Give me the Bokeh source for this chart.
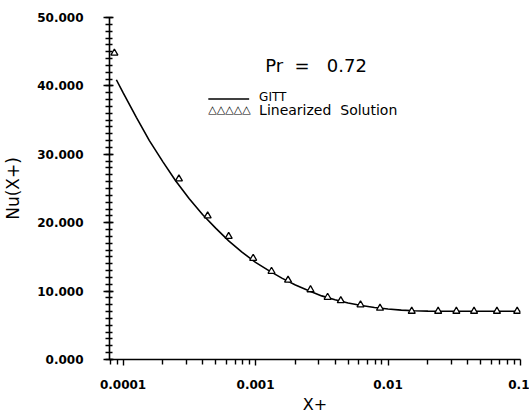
from bokeh.plotting import figure
from bokeh.models import (Range1d, FixedTicker, SingleIntervalTicker, NumeralTickFormatter,
                          Label, BoxAnnotation)
from bokeh.embed import file_html
from bokeh.resources import INLINE

# GITT solution (solid line)
gitt_x = [8.9e-5, 1.0e-4, 1.26e-4, 1.58e-4, 2.0e-4, 2.5e-4, 3.16e-4, 3.98e-4, 5.0e-4,
          6.3e-4, 7.9e-4, 1.0e-3, 1.26e-3, 1.58e-3, 2.0e-3, 2.5e-3, 3.16e-3, 3.98e-3,
          5.0e-3, 6.3e-3, 7.9e-3, 1.0e-2, 1.26e-2, 1.58e-2, 2.0e-2, 5.0e-2, 1.0e-1]
gitt_y = [40.9, 39.0, 35.4, 32.0, 28.9, 26.1, 23.5, 21.2, 19.2,
          17.3, 15.7, 14.2, 13.0, 11.9, 10.9, 10.1, 9.3, 8.75,
          8.25, 7.9, 7.6, 7.38, 7.22, 7.12, 7.07, 7.05, 7.05]

# Linearized solution (triangles)
lin_x = [8.6e-5, 2.64e-4, 4.35e-4, 6.27e-4, 9.6e-4, 1.32e-3, 1.76e-3, 2.6e-3, 3.5e-3,
         4.4e-3, 6.2e-3, 8.7e-3, 1.51e-2, 2.39e-2, 3.28e-2, 4.46e-2, 6.64e-2, 9.44e-2]
lin_y = [44.8, 26.4, 21.0, 18.0, 14.8, 12.9, 11.6, 10.2, 9.1,
         8.6, 8.0, 7.5, 7.06, 7.06, 7.06, 7.06, 7.06, 7.06]

x_tick_values = [1e-4, 1e-3, 1e-2, 1e-1]
x_tick_labels = ["0.0001", "0.001", "0.01", "0.1"]
x_minor_ticks = [8e-5, 9e-5] + [m * d for d in (1e-4, 1e-3, 1e-2) for m in range(2, 10)]

FONT = "DejaVu Sans"
NB = "\u00a0"

p = figure(width=529, height=416, x_axis_type="log",
           x_range=Range1d(7.9e-5, 0.1), y_range=Range1d(0, 50),
           output_backend="svg", toolbar_location=None,
           min_border_left=108, min_border_right=9, min_border_top=17, min_border_bottom=54)
p.outline_line_color = None
p.xgrid.visible = False
p.ygrid.visible = False
p.background_fill_color = "white"
p.border_fill_color = "white"

p.line(gitt_x, gitt_y, line_color="black", line_width=1.6)
p.scatter(lin_x, lin_y, marker="triangle", size=7, fill_color="white",
          line_color="black", line_width=1.3)

# x axis
xa = p.xaxis[0]
xa.ticker = FixedTicker(ticks=x_tick_values, minor_ticks=x_minor_ticks)
xa.major_label_overrides = dict(zip(x_tick_values, x_tick_labels))
xa.axis_label = "X+"
xa.axis_line_width = 1.6
xa.major_tick_in = 0
xa.major_tick_out = 6
xa.minor_tick_in = 0
xa.minor_tick_out = 5
xa.major_tick_line_width = 1.4
xa.minor_tick_line_width = 1.4
xa.major_label_standoff = 14
xa.axis_label_standoff = 3
xa.axis_label_text_font_size = "16px"

# y axis
ya = p.yaxis[0]
ya.ticker = SingleIntervalTicker(interval=10, num_minor_ticks=10)
ya.formatter = NumeralTickFormatter(format="0.000")
ya.axis_label = "Nu(X+)"
ya.axis_line_width = 1.6
ya.major_tick_in = 4
ya.major_tick_out = 6
ya.minor_tick_in = 3
ya.minor_tick_out = 4
ya.major_tick_line_width = 1.4
ya.minor_tick_line_width = 1.4
ya.major_label_standoff = 20
ya.axis_label_standoff = 11
ya.axis_label_text_font_size = "17px"

for ax in (xa, ya):
    ax.major_label_text_font = FONT
    ax.major_label_text_font_size = "12px"
    ax.major_label_text_font_style = "bold"
    ax.major_label_text_color = "black"
    ax.axis_label_text_font = FONT
    ax.axis_label_text_font_style = "normal"
    ax.axis_label_text_color = "black"
    ax.axis_line_color = "black"
    ax.major_tick_line_color = "black"
    ax.minor_tick_line_color = "black"

# annotation text and hand-made legend
p.add_layout(Label(x=2.86e-3, y=43.0, text="Pr" + NB * 2 + "=" + NB * 3 + "0.72",
                   text_font=FONT, text_font_size="18px", text_align="center",
                   text_baseline="middle", text_color="black"))
p.add_layout(BoxAnnotation(left=4.40e-4, right=8.95e-4, bottom=37.96, top=38.18,
                           fill_color="black", fill_alpha=1.0, line_color=None))
p.add_layout(Label(x=1.064e-3, y=38.4, text="GITT", text_font=FONT,
                   text_font_size="12px", text_align="left", text_baseline="middle",
                   text_color="black"))
p.add_layout(Label(x=4.40e-4, y=36.5, text="\u25b3\u25b3\u25b3\u25b3\u25b3",
                   text_font=FONT, text_font_size="11px", text_font_style="bold",
                   text_align="left", text_baseline="middle", text_color="black"))
p.add_layout(Label(x=1.064e-3, y=36.5, text="Linearized" + NB * 2 + "Solution",
                   text_font=FONT, text_font_size="14px", text_align="left",
                   text_baseline="middle", text_color="black"))

open("out.html", "w").write(file_html(p, INLINE))
